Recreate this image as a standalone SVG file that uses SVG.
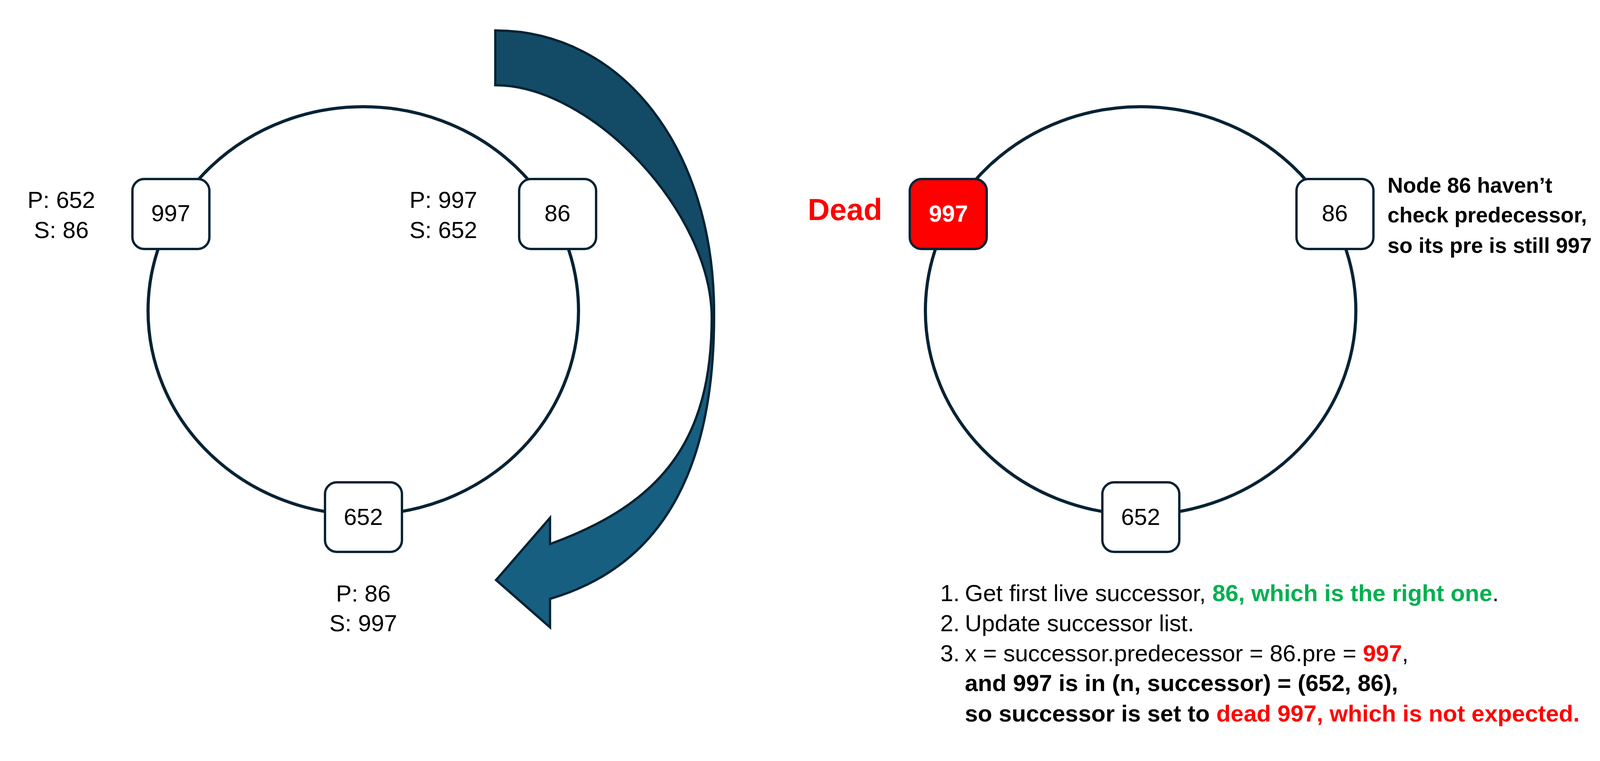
<svg xmlns="http://www.w3.org/2000/svg" width="4217" height="1947" viewBox="0 0 4217 1947">
<style>
  .ring { fill: none; stroke: #062334; stroke-width: 8; }
  .node { fill: #ffffff; stroke: #062334; stroke-width: 6; }
  .dead { fill: #ff0000; stroke: #062334; stroke-width: 6; }
  .t { font-family: "Liberation Sans", Arial, sans-serif; font-size: 60px; fill: #000000; }
  .c { text-anchor: middle; }
  .b { font-weight: bold; }
  .red { fill: #ff0000; }
  .green { fill: #00b050; }
  .note { font-size: 55px; }
  .arrow { stroke: #062334; stroke-width: 6; stroke-linejoin: miter; }
</style>
<rect x="0" y="0" width="4217" height="1947" fill="#ffffff"/>

<g id="connectors">
  <ellipse class="ring" cx="930" cy="795" rx="551" ry="522"/>
  <ellipse class="ring" cx="2920" cy="795" rx="551" ry="522"/>
</g>

<g id="curved-arrow">
  <path class="arrow" fill="#134b66" d="M1268,78 C1593,78 1828,381 1828,800 L1822,813 C1822,545 1517,218 1268,218 Z"/>
  <path class="arrow" fill="#175f80" d="M1828,800 C1830,1200 1696,1448 1408,1532 L1408,1605 L1270,1484 L1408,1325 L1408,1392 C1690,1290 1822,1130 1822,813 Z"/>
</g>

<g id="left-node-997">
  <rect class="node" x="339" y="458" width="197" height="179" rx="30" ry="30"/>
  <text class="t c" x="437" y="566">997</text>
</g>
<g id="left-node-86">
  <rect class="node" x="1329" y="458" width="197" height="179" rx="30" ry="30"/>
  <text class="t c" x="1427" y="566">86</text>
</g>
<g id="left-node-652">
  <rect class="node" x="832" y="1234" width="197" height="178" rx="30" ry="30"/>
  <text class="t c" x="930" y="1343">652</text>
</g>

<g id="left-labels">
  <text class="t c" x="157" y="532">P: 652</text>
  <text class="t c" x="157" y="609">S: 86</text>
  <text class="t c" x="1135" y="532">P: 997</text>
  <text class="t c" x="1135" y="609">S: 652</text>
  <text class="t c" x="930" y="1539">P: 86</text>
  <text class="t c" x="930" y="1615">S: 997</text>
</g>

<g id="right-node-997">
  <rect class="dead" x="2329" y="458" width="197" height="179" rx="30" ry="30"/>
  <text class="t c b" x="2428" y="567" style="fill:#ffffff">997</text>
</g>
<g id="right-node-86">
  <rect class="node" x="3319" y="458" width="197" height="179" rx="30" ry="30"/>
  <text class="t c" x="3417" y="566">86</text>
</g>
<g id="right-node-652">
  <rect class="node" x="2822" y="1234" width="197" height="178" rx="30" ry="30"/>
  <text class="t c" x="2920" y="1343">652</text>
</g>

<g id="right-labels">
  <text class="t c b red" x="2163" y="563" style="font-size:78px">Dead</text>
  <text class="t b note" x="3552" y="493">Node 86 haven’t</text>
  <text class="t b note" x="3552" y="569">check predecessor,</text>
  <text class="t b note" x="3552" y="647">so its pre is still 997</text>
</g>

<g id="steps">
  <text class="t" x="2407" y="1538">1.</text>
  <text class="t" x="2470" y="1538">Get first live successor, <tspan class="b green">86, which is the right one</tspan>.</text>
  <text class="t" x="2407" y="1615">2.</text>
  <text class="t" x="2470" y="1615">Update successor list.</text>
  <text class="t" x="2407" y="1692">3.</text>
  <text class="t" x="2470" y="1692">x = successor.predecessor = 86.pre = <tspan class="b red">997</tspan>,</text>
  <text class="t b" x="2470" y="1768">and 997 is in (n, successor) = (652, 86),</text>
  <text class="t b" x="2470" y="1846">so successor is set to <tspan class="red">dead 997, which is not expected.</tspan></text>
</g>
</svg>
